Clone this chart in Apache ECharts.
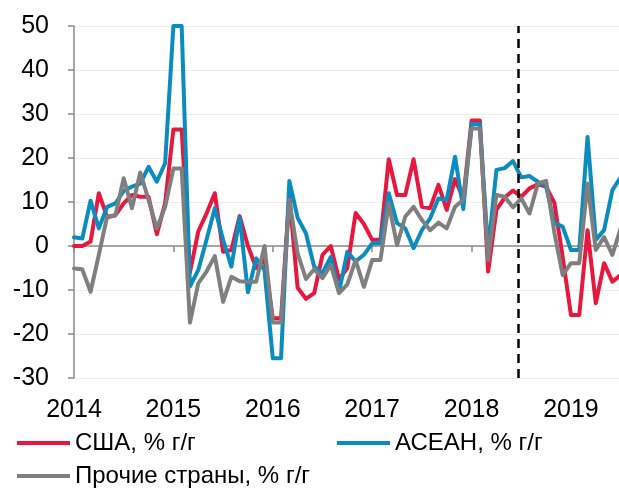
<!DOCTYPE html>
<html>
<head>
<meta charset="utf-8">
<script src="https://cdn.jsdelivr.net/npm/echarts@6/dist/echarts.min.js"></script>
<style>
  html, body { margin: 0; padding: 0; background: #fff; }
  #chart { width: 619px; height: 490px; }
</style>
</head>
<body>
<div id="chart"></div>
<script>
// Monthly year-on-year growth, January 2014 onwards (one value per month)
const yearLabels = ['2014', '2015', '2016', '2017', '2018', '2019'];

const usa = [
  0, 0, 1, 12, 6.5, 7, 9.7, 11.6, 11.2, 11.2, 2.7, 9.7,
  26.5, 26.5, -6, 3.3, 7.4, 12, -1.3, -0.9, 6.8, 0, -5, -3,
  -16.4, -16.4, 11.5, -9.5, -12, -10.7, -2, 0, -7.6, -5, 7.5, 5,
  1.4, 1.4, 19.7, 11.6, 11.6, 19.7, 8.9, 8.6, 13.9, 8.2, 15.2, 10.8,
  28.5, 28.5, -5.8, 8.2, 11, 12.6, 11.2, 13.1, 14, 13.5, 9.8, -2.5,
  -15.7, -15.7, 3.6, -13, -3.9, -8.1, -6.6
];

const asean = [
  2, 1.7, 10.3, 4, 8.9, 9.7, 12.5, 13.5, 14.2, 18, 14.6, 18.8,
  50, 50, -9.2, -5.5, 1.4, 8.6, 1.4, -4.7, 6.5, -10.5, -2.8, -5.5,
  -25.5, -25.5, 14.8, 6.4, 2.9, -4.7, -6.2, -2.5, -10.5, -1.3, -3.5, -2,
  0.6, 0.6, 12, 5.2, 4, -0.5, 3.6, 6.3, 10.8, 10.5, 20.3, 8.4,
  27.7, 27.7, -1, 17.3, 17.7, 19.3, 15.6, 15.9, 14.6, 13.5, 5.2, 4.4,
  -0.9, -0.9, 24.8, 1.4, 3.6, 12.7, 15.6
];

const other = [
  -5.1, -5.3, -10.4, -2, 6.7, 7, 15.4, 8.6, 16.7, 10.5, 4, 8.9,
  17.6, 17.6, -17.4, -8.5, -5.8, -2.3, -12.7, -7, -8, -8.1, -8.1, 0,
  -17.4, -17.4, 10.5, -1.7, -7.5, -5.3, -7.3, -4.3, -10.7, -8.7, -3.2, -9.3,
  -3.2, -3.2, 9.7, 0.2, 6.7, 8.9, 5.9, 3.6, 5.3, 4, 8.9, 10.5,
  26.7, 26.7, -3.2, 11.6, 11.2, 8.8, 10.8, 7.4, 14.2, 14.8, 3, -6.6,
  -3.9, -3.9, 14.2, -0.9, 2, -2, 4
];

// Forecast boundary, in months since January 2014
const forecastStart = 53.6;

const seriesNames = ['США, % г/г', 'АСЕАН, % г/г', 'Прочие страны, % г/г'];
const seriesColors = ['#e8173d', '#0a8cbf', '#7f7f80'];

const FONT = '"Liberation Sans", Arial, sans-serif';
const yearTicks = yearLabels.map((_, k) => k * 12);

function toPoints(arr) {
  return arr.map((v, i) => [i, v]);
}

function lineSeries(name, values, color, extra) {
  return Object.assign({
    name: name,
    type: 'line',
    xAxisIndex: 0,
    yAxisIndex: 0,
    data: toPoints(values),
    showSymbol: false,
    symbol: 'none',
    clip: true,
    animation: false,
    color: color,
    lineStyle: { width: 4, color: color, join: 'round', cap: 'round' },
    emphasis: { disabled: true }
  }, extra || {});
}

const chart = echarts.init(document.getElementById('chart'), null, { renderer: 'canvas' });

function legendItem(name, color, left, top) {
  return {
    data: [{ name: name, icon: 'rect', itemStyle: { color: color } }],
    left: left,
    top: top,
    orient: 'horizontal',
    itemWidth: 53,
    itemHeight: 4,
    padding: 0,
    selectedMode: false,
    textStyle: { fontFamily: FONT, fontSize: 24, color: '#000', padding: [0, 0, 0, 0] }
  };
}

chart.setOption({
  backgroundColor: '#ffffff',
  animation: false,
  grid: {
    left: 74, right: 0, top: 26, bottom: 112,
    containLabel: false,
    outerBoundsMode: 'none'
  },
  legend: [
    legendItem(seriesNames[0], seriesColors[0], 17, 431),
    legendItem(seriesNames[1], seriesColors[1], 337, 431),
    legendItem(seriesNames[2], seriesColors[2], 17, 464)
  ],
  xAxis: [
    {
      // year labels along the bottom of the plot
      type: 'value',
      min: 0,
      max: 65.8,
      interval: 12,
      position: 'bottom',
      axisLine: { show: false, onZero: false },
      axisTick: { show: false },
      splitLine: { show: false },
      axisLabel: {
        margin: 20,
        fontFamily: FONT,
        fontSize: 25,
        color: '#000',
        showMaxLabel: false,
        formatter: function (v) {
          const k = Math.round(v / 12);
          return (Math.abs(v - k * 12) < 1e-6 && yearLabels[k]) ? yearLabels[k] : '';
        }
      }
    },
    {
      // baseline drawn at zero with year ticks
      type: 'value',
      min: 0,
      max: 65.8,
      interval: 12,
      position: 'bottom',
      axisLine: { show: true, onZero: true, lineStyle: { color: '#8a8a8a', width: 1.5 } },
      axisTick: { show: true, length: 6, inside: false, customValues: yearTicks,
                  lineStyle: { color: '#8a8a8a', width: 1.5 } },
      axisLabel: { show: false },
      splitLine: { show: false }
    }
  ],
  yAxis: {
    type: 'value',
    min: -30,
    max: 50,
    interval: 10,
    axisLine: { show: true, lineStyle: { color: '#8a8a8a', width: 1.5 } },
    axisTick: { show: true, length: 6, inside: false, lineStyle: { color: '#8a8a8a', width: 1.5 } },
    splitLine: { show: true, lineStyle: { color: '#ececec', width: 1 } },
    axisLabel: {
      margin: 25,
      fontFamily: FONT,
      fontSize: 25,
      color: '#000'
    }
  },
  series: [
    lineSeries(seriesNames[0], usa, seriesColors[0], {
      markLine: {
        silent: true,
        symbol: ['none', 'none'],
        animation: false,
        label: { show: false },
        lineStyle: { color: '#000', width: 2.5, type: [9, 6] },
        emphasis: { disabled: true },
        data: [{ xAxis: forecastStart }]
      }
    }),
    lineSeries(seriesNames[1], asean, seriesColors[1]),
    lineSeries(seriesNames[2], other, seriesColors[2])
  ]
});
</script>
</body>
</html>
